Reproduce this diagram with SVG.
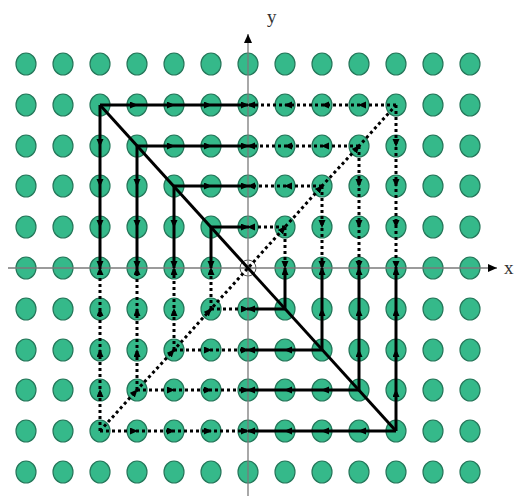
<svg xmlns="http://www.w3.org/2000/svg" width="520" height="498" viewBox="0 0 520 498">
<defs>
<style>
.dot{fill:#35b98a;stroke:#25775a;stroke-width:1.2}
.ax{stroke:#7a7a7a;stroke-width:1.3;fill:none}
.s{stroke:#000;stroke-width:3;fill:none;marker-mid:url(#ar);marker-end:url(#ar)}
.d{stroke:#000;stroke-width:3;fill:none;stroke-dasharray:3 3;marker-mid:url(#ar);marker-end:url(#ar)}
.diag{stroke:#000;stroke-width:3;fill:none}
.lbl{font-family:"Liberation Serif","DejaVu Serif",serif;font-size:19px;fill:#333}
</style>
<marker id="ar" markerUnits="userSpaceOnUse" markerWidth="10" markerHeight="10" refX="7" refY="3.5" orient="auto">
<path d="M0,0 L8,3.5 L0,7 z" fill="#000"/>
</marker>
<marker id="axa" markerUnits="userSpaceOnUse" markerWidth="12" markerHeight="12" refX="9" refY="4" orient="auto">
<path d="M0,0 L9,4 L0,8 z" fill="#000"/>
</marker>
<ellipse id="g" class="dot" rx="10" ry="11"/>
</defs>
<rect width="520" height="498" fill="#fff"/>
<g id="grid">
<g id="r-5"><use href="#g" x="26" y="64"/><use href="#g" x="63" y="64"/><use href="#g" x="100" y="64"/><use href="#g" x="137" y="64"/><use href="#g" x="174" y="64"/><use href="#g" x="211" y="64"/><use href="#g" x="248" y="64"/><use href="#g" x="285" y="64"/><use href="#g" x="322" y="64"/><use href="#g" x="359" y="64"/><use href="#g" x="396" y="64"/><use href="#g" x="433" y="64"/><use href="#g" x="470" y="64"/></g>
<g id="r-4"><use href="#g" x="26" y="105"/><use href="#g" x="63" y="105"/><use href="#g" x="100" y="105"/><use href="#g" x="137" y="105"/><use href="#g" x="174" y="105"/><use href="#g" x="211" y="105"/><use href="#g" x="248" y="105"/><use href="#g" x="285" y="105"/><use href="#g" x="322" y="105"/><use href="#g" x="359" y="105"/><use href="#g" x="396" y="105"/><use href="#g" x="433" y="105"/><use href="#g" x="470" y="105"/></g>
<g id="r-3"><use href="#g" x="26" y="146"/><use href="#g" x="63" y="146"/><use href="#g" x="100" y="146"/><use href="#g" x="137" y="146"/><use href="#g" x="174" y="146"/><use href="#g" x="211" y="146"/><use href="#g" x="248" y="146"/><use href="#g" x="285" y="146"/><use href="#g" x="322" y="146"/><use href="#g" x="359" y="146"/><use href="#g" x="396" y="146"/><use href="#g" x="433" y="146"/><use href="#g" x="470" y="146"/></g>
<g id="r-2"><use href="#g" x="26" y="186"/><use href="#g" x="63" y="186"/><use href="#g" x="100" y="186"/><use href="#g" x="137" y="186"/><use href="#g" x="174" y="186"/><use href="#g" x="211" y="186"/><use href="#g" x="248" y="186"/><use href="#g" x="285" y="186"/><use href="#g" x="322" y="186"/><use href="#g" x="359" y="186"/><use href="#g" x="396" y="186"/><use href="#g" x="433" y="186"/><use href="#g" x="470" y="186"/></g>
<g id="r-1"><use href="#g" x="26" y="227"/><use href="#g" x="63" y="227"/><use href="#g" x="100" y="227"/><use href="#g" x="137" y="227"/><use href="#g" x="174" y="227"/><use href="#g" x="211" y="227"/><use href="#g" x="248" y="227"/><use href="#g" x="285" y="227"/><use href="#g" x="322" y="227"/><use href="#g" x="359" y="227"/><use href="#g" x="396" y="227"/><use href="#g" x="433" y="227"/><use href="#g" x="470" y="227"/></g>
<g id="r0"><use href="#g" x="26" y="268"/><use href="#g" x="63" y="268"/><use href="#g" x="100" y="268"/><use href="#g" x="137" y="268"/><use href="#g" x="174" y="268"/><use href="#g" x="211" y="268"/><use href="#g" x="285" y="268"/><use href="#g" x="322" y="268"/><use href="#g" x="359" y="268"/><use href="#g" x="396" y="268"/><use href="#g" x="433" y="268"/><use href="#g" x="470" y="268"/></g>
<g id="r1"><use href="#g" x="26" y="309"/><use href="#g" x="63" y="309"/><use href="#g" x="100" y="309"/><use href="#g" x="137" y="309"/><use href="#g" x="174" y="309"/><use href="#g" x="211" y="309"/><use href="#g" x="248" y="309"/><use href="#g" x="285" y="309"/><use href="#g" x="322" y="309"/><use href="#g" x="359" y="309"/><use href="#g" x="396" y="309"/><use href="#g" x="433" y="309"/><use href="#g" x="470" y="309"/></g>
<g id="r2"><use href="#g" x="26" y="350"/><use href="#g" x="63" y="350"/><use href="#g" x="100" y="350"/><use href="#g" x="137" y="350"/><use href="#g" x="174" y="350"/><use href="#g" x="211" y="350"/><use href="#g" x="248" y="350"/><use href="#g" x="285" y="350"/><use href="#g" x="322" y="350"/><use href="#g" x="359" y="350"/><use href="#g" x="396" y="350"/><use href="#g" x="433" y="350"/><use href="#g" x="470" y="350"/></g>
<g id="r3"><use href="#g" x="26" y="390"/><use href="#g" x="63" y="390"/><use href="#g" x="100" y="390"/><use href="#g" x="137" y="390"/><use href="#g" x="174" y="390"/><use href="#g" x="211" y="390"/><use href="#g" x="248" y="390"/><use href="#g" x="285" y="390"/><use href="#g" x="322" y="390"/><use href="#g" x="359" y="390"/><use href="#g" x="396" y="390"/><use href="#g" x="433" y="390"/><use href="#g" x="470" y="390"/></g>
<g id="r4"><use href="#g" x="26" y="431"/><use href="#g" x="63" y="431"/><use href="#g" x="100" y="431"/><use href="#g" x="137" y="431"/><use href="#g" x="174" y="431"/><use href="#g" x="211" y="431"/><use href="#g" x="248" y="431"/><use href="#g" x="285" y="431"/><use href="#g" x="322" y="431"/><use href="#g" x="359" y="431"/><use href="#g" x="396" y="431"/><use href="#g" x="433" y="431"/><use href="#g" x="470" y="431"/></g>
<g id="r5"><use href="#g" x="26" y="472"/><use href="#g" x="63" y="472"/><use href="#g" x="100" y="472"/><use href="#g" x="137" y="472"/><use href="#g" x="174" y="472"/><use href="#g" x="211" y="472"/><use href="#g" x="248" y="472"/><use href="#g" x="285" y="472"/><use href="#g" x="322" y="472"/><use href="#g" x="359" y="472"/><use href="#g" x="396" y="472"/><use href="#g" x="433" y="472"/><use href="#g" x="470" y="472"/></g>
</g>
<g id="origin"><circle cx="248" cy="268" r="8" fill="none" stroke="#555" stroke-width="1"/></g>
<g id="axes">
<line class="ax" x1="8" y1="268" x2="497" y2="268" marker-end="url(#axa)"/>
<line class="ax" x1="248" y1="496" x2="248" y2="34" marker-end="url(#axa)"/>
<text class="lbl" x="504" y="274">x</text>
<text class="lbl" x="267" y="23">y</text>
</g>
<g id="connectors">
<polyline class="diag" points="100,105 396,431"/>
<polyline class="d" style="marker-end:none" points="100,431 137,390 174,350 211,309 285,227 322,186 359,146 396,105"/>
<polyline class="s" points="100,105 137,105 174,105 211,105 248,105"/>
<polyline class="s" points="137,146 174,146 211,146 248,146"/>
<polyline class="s" points="174,186 211,186 248,186"/>
<polyline class="s" points="211,227 248,227"/>
<polyline class="s" points="100,105 100,146 100,186 100,227 100,268"/>
<polyline class="s" points="137,146 137,186 137,227 137,268"/>
<polyline class="s" points="174,186 174,227 174,268"/>
<polyline class="s" points="211,227 211,268"/>
<polyline class="s" points="396,431 359,431 322,431 285,431 248,431"/>
<polyline class="s" points="359,390 322,390 285,390 248,390"/>
<polyline class="s" points="322,350 285,350 248,350"/>
<polyline class="s" points="285,309 248,309"/>
<polyline class="s" points="396,431 396,390 396,350 396,309 396,268"/>
<polyline class="s" points="359,390 359,350 359,309 359,268"/>
<polyline class="s" points="322,350 322,309 322,268"/>
<polyline class="s" points="285,309 285,268"/>
<polyline class="d" points="396,105 359,105 322,105 285,105 248,105"/>
<polyline class="d" points="359,146 322,146 285,146 248,146"/>
<polyline class="d" points="322,186 285,186 248,186"/>
<polyline class="d" points="285,227 248,227"/>
<polyline class="d" points="396,105 396,146 396,186 396,227 396,268"/>
<polyline class="d" points="359,146 359,186 359,227 359,268"/>
<polyline class="d" points="322,186 322,227 322,268"/>
<polyline class="d" points="285,227 285,268"/>
<polyline class="d" points="100,431 137,431 174,431 211,431 248,431"/>
<polyline class="d" points="137,390 174,390 211,390 248,390"/>
<polyline class="d" points="174,350 211,350 248,350"/>
<polyline class="d" points="211,309 248,309"/>
<polyline class="d" points="100,431 100,390 100,350 100,309 100,268"/>
<polyline class="d" points="137,390 137,350 137,309 137,268"/>
<polyline class="d" points="174,350 174,309 174,268"/>
<polyline class="d" points="211,309 211,268"/>
</g>
</svg>
